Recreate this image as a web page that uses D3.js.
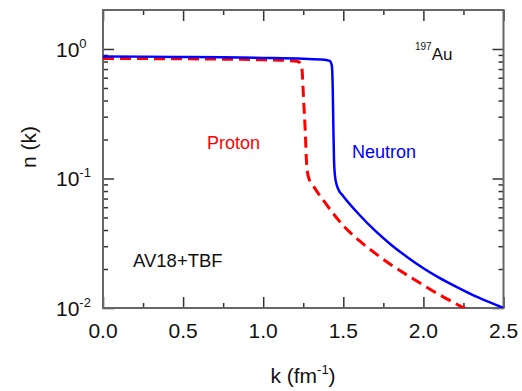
<!DOCTYPE html>
<html>
<head>
<meta charset="utf-8">
<script src="https://cdn.jsdelivr.net/npm/d3@7"></script>
<style>
  body { margin: 0; background: #fff; }
  svg { display: block; font-family: "Liberation Sans", Arial, sans-serif; }
</style>
</head>
<body>
<div id="chart"></div>
<script>
  // neutron momentum distribution (blue, solid)
  var kNeutron = [0, 0.25, 0.5, 0.75, 1.0, 1.25, 1.38, 1.415, 1.428, 1.434, 1.438, 1.442, 1.448, 1.458, 1.47, 1.5, 1.6, 1.7, 1.8, 1.9, 2.0, 2.1, 2.2, 2.3, 2.4, 2.5];
  var nNeutron = [0.875, 0.873, 0.868, 0.862, 0.853, 0.84, 0.825, 0.81, 0.75, 0.5, 0.25, 0.14, 0.105, 0.09, 0.082, 0.073, 0.0525, 0.0394, 0.0307, 0.0247, 0.0203, 0.0171, 0.0147, 0.01276, 0.01125, 0.01];

  // proton momentum distribution (red, dashed)
  var kProton = [0, 0.25, 0.5, 0.75, 1.0, 1.15, 1.21, 1.232, 1.242, 1.252, 1.262, 1.272, 1.285, 1.3, 1.4, 1.5, 1.6, 1.7, 1.8, 1.9, 2.0, 2.1, 2.2, 2.3];
  var nProton = [0.845, 0.843, 0.84, 0.835, 0.825, 0.815, 0.805, 0.78, 0.70, 0.41, 0.24, 0.125, 0.1, 0.093, 0.0617, 0.0432, 0.0331, 0.0264, 0.0215, 0.0179, 0.0150, 0.01265, 0.01084, 0.00933];

  // tick labels
  var xTicks = [0, 0.5, 1.0, 1.5, 2.0, 2.5];
  var xMinorTicks = [0.25, 0.75, 1.25, 1.75, 2.25];
  var yTicks = [1, 0.1, 0.01];
  var yTickExp = ["0", "-1", "-2"];

  var W = 522, H = 391;
  var margin = {top: 10, right: 18.5, bottom: 83, left: 103},
      width = W - margin.left - margin.right,
      height = H - margin.top - margin.bottom;

  var svg = d3.select("#chart").append("svg")
      .attr("width", W)
      .attr("height", H);

  var g = svg.append("g")
      .attr("transform", "translate(" + margin.left + "," + margin.top + ")");

  var x = d3.scaleLinear().domain([0, 2.5]).range([0, width]);
  var y = d3.scaleLog().domain([0.01, 2.0]).range([height, 0]);

  g.append("clipPath").attr("id", "clip")
    .append("rect").attr("width", width).attr("height", height);

  // minor log ticks (2..9 in each decade)
  var yMinor = y.ticks().filter(function(d) { return yTicks.indexOf(d) < 0 && d < 2; });

  function drawAxis(axis, tr) {
    var a = g.append("g").attr("transform", tr).call(axis);
    a.select(".domain").remove();
    a.selectAll("line").attr("stroke", "#333").attr("stroke-width", 1.5);
    a.selectAll("text").remove();
  }

  // major and minor ticks on all four sides, pointing inward
  drawAxis(d3.axisBottom(x).tickValues(xTicks).tickSize(-11), "translate(0," + height + ")");
  drawAxis(d3.axisBottom(x).tickValues(xMinorTicks).tickSize(-5), "translate(0," + height + ")");
  drawAxis(d3.axisTop(x).tickValues(xTicks).tickSize(-11), "translate(0,0)");
  drawAxis(d3.axisTop(x).tickValues(xMinorTicks).tickSize(-5), "translate(0,0)");
  drawAxis(d3.axisLeft(y).tickValues(yTicks).tickSize(-11), "translate(0,0)");
  drawAxis(d3.axisLeft(y).tickValues(yMinor).tickSize(-5), "translate(0,0)");
  drawAxis(d3.axisRight(y).tickValues(yTicks).tickSize(-11), "translate(" + width + ",0)");
  drawAxis(d3.axisRight(y).tickValues(yMinor).tickSize(-5), "translate(" + width + ",0)");

  // frame
  g.append("rect")
    .attr("width", width).attr("height", height)
    .attr("fill", "none").attr("stroke", "#666").attr("stroke-width", 2);

  var line = d3.line()
    .x(function(d) { return x(d[0]); })
    .y(function(d) { return y(d[1]); })
    .curve(d3.curveMonotoneX);

  var proton = kProton.map(function(k, i) { return [k, nProton[i]]; });
  var neutron = kNeutron.map(function(k, i) { return [k, nNeutron[i]]; });

  g.append("path").datum(proton)
    .attr("clip-path", "url(#clip)")
    .attr("d", line)
    .attr("fill", "none")
    .attr("stroke", "#ff0000")
    .attr("stroke-width", 3)
    .attr("stroke-dasharray", "11,6");

  g.append("path").datum(neutron)
    .attr("clip-path", "url(#clip)")
    .attr("d", line)
    .attr("fill", "none")
    .attr("stroke", "#0000ff")
    .attr("stroke-width", 2.5);

  // x tick labels
  g.selectAll(".xlab").data(xTicks).enter().append("text")
    .attr("x", function(d) { return x(d); })
    .attr("y", height + 30)
    .attr("text-anchor", "middle")
    .attr("font-size", 21)
    .attr("fill", "#111")
    .text(function(d) { return d3.format(".1f")(d); });

  // y tick labels as 10 with superscript
  yTicks.forEach(function(d, i) {
    var t = svg.append("text")
      .attr("x", 56)
      .attr("y", margin.top + y(d) + 8)
      .attr("font-size", 21)
      .attr("fill", "#111");
    t.append("tspan").text("10");
    t.append("tspan").attr("font-size", 13).attr("dy", -9).text(yTickExp[i]);
  });

  // axis titles
  var xt = svg.append("text")
    .attr("x", 303).attr("y", 383)
    .attr("text-anchor", "middle")
    .attr("font-size", 21)
    .attr("fill", "#111");
  xt.append("tspan").text("k (fm");
  xt.append("tspan").attr("font-size", 13).attr("dy", -9).text("-1");
  xt.append("tspan").attr("dy", 9).text(")");

  svg.append("text")
    .attr("transform", "translate(36,147) rotate(-90)")
    .attr("text-anchor", "middle")
    .attr("font-size", 21)
    .attr("fill", "#111")
    .text("n (k)");

  // annotations
  svg.append("text")
    .attr("x", 207).attr("y", 149)
    .attr("font-size", 18).attr("fill", "#ff0000")
    .text("Proton");

  svg.append("text")
    .attr("x", 352).attr("y", 158)
    .attr("font-size", 18).attr("fill", "#0000ff")
    .text("Neutron");

  var au = svg.append("text")
    .attr("x", 415).attr("y", 60)
    .attr("fill", "#111");
  au.append("tspan").attr("font-size", 10).attr("dy", -10).text("197");
  au.append("tspan").attr("font-size", 17).attr("dy", 10).text("Au");

  svg.append("text")
    .attr("x", 133).attr("y", 267)
    .attr("font-size", 18.5).attr("fill", "#111")
    .text("AV18+TBF");
</script>
</body>
</html>
